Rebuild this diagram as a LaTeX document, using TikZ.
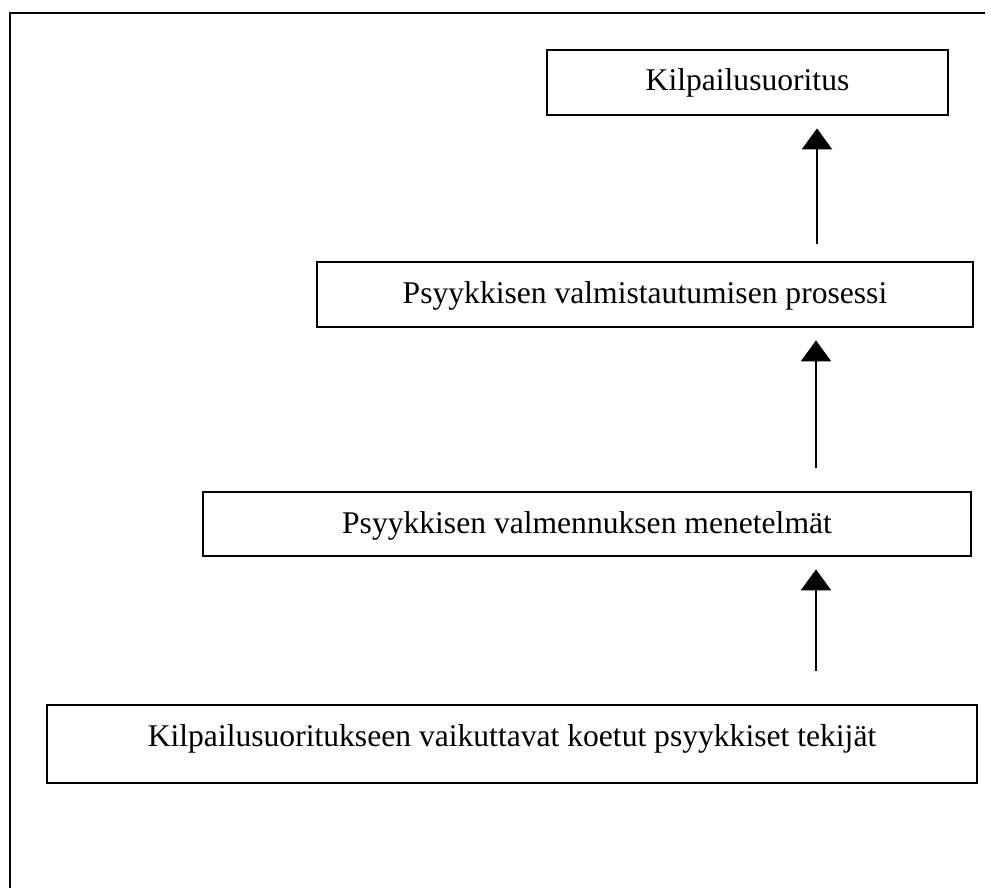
\documentclass[tikz,border=0pt]{standalone}
\usepackage{fontspec}
\setmainfont{Liberation Serif}
\usetikzlibrary{arrows.meta}
\begin{document}
\begin{tikzpicture}[x=1pt,y=-1pt,
  box/.style={draw, line width=2.8pt, rectangle, inner sep=0pt, anchor=base,
    font=\fontsize{31.6}{34}\selectfont, text height=41pt},
  arr/.style={line width=2.3pt, -{Triangle[width=30pt,length=21pt]}, shorten >=12pt}]
\useasboundingbox (0,0) rectangle (991,888);
% frame
\coordinate (fb) at (10,888);
\coordinate (fc) at (10,13);
\coordinate (fe) at (985,13);
\draw[line width=2.6pt] (fb) -- (fc) -- (fe);
% boxes
\node[box, minimum width=401pt, text depth=24pt] (k1) at (747.5,91) {Kilpailusuoritus};
\node[box, minimum width=656pt, text depth=24pt] (k2) at (645,303) {Psyykkisen valmistautumisen prosessi};
\node[box, minimum width=768pt, text depth=23pt] (k3) at (587,533) {Psyykkisen valmennuksen menetelmät};
\node[box, minimum width=930pt, text depth=37pt] (k4) at (512,746) {Kilpailusuoritukseen vaikuttavat koetut psyykkiset tekijät};
% arrows
\coordinate (s1) at (817,244);
\coordinate (s2) at (816,468);
\coordinate (s3) at (816,671);
\draw[arr] (s1) -- (s1 |- k1.south);
\draw[arr] (s2) -- (s2 |- k2.south);
\draw[arr] (s3) -- (s3 |- k3.south);
\end{tikzpicture}
\end{document}
